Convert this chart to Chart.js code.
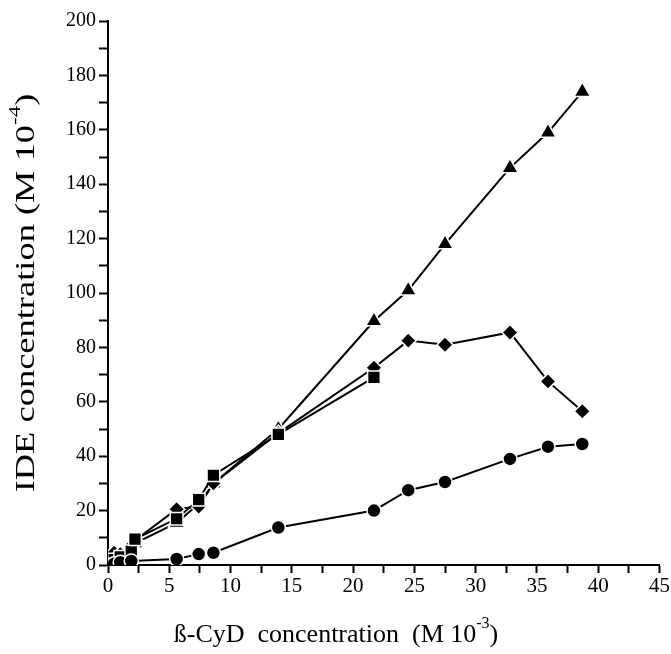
<!DOCTYPE html>
<html>
<head>
    <title>IDE vs beta-CyD concentration</title>
    <script src="https://cdn.jsdelivr.net/npm/chart.js"></script>
    <style>
        body {
            margin: 0;
            background: #fff;
        }
        .chart-container {
            position: relative;
            width: 671px;
            height: 654px;
        }
    </style>
</head>
<body>
    <div class="chart-container">
        <canvas id="ideChart"></canvas>
    </div>

    <script>
        // beta-CyD concentration (M 10^-3) and IDE concentration (M 10^-4)
        const triangleX = [0, 0.5, 1, 1.9, 2.2, 5.6, 7.4, 8.6, 13.9, 21.7, 24.5, 27.5, 32.8, 35.9, 38.7];
        const triangleY = [0, 4, 3.5, 6, 8, 15.5, 22.5, 30, 50, 89.7, 101, 118, 146, 159, 174];

        const diamondX = [0, 0.5, 1, 1.9, 2.2, 5.6, 7.4, 8.6, 13.9, 21.7, 24.5, 27.5, 32.8, 35.9, 38.7];
        const diamondY = [0, 4.5, 4, 7, 9, 20.5, 21.5, 30, 48.5, 72.5, 82.5, 81, 85.5, 67.5, 56.5];

        const squareX = [0, 0.5, 1, 1.9, 2.2, 5.6, 7.4, 8.6, 13.9, 21.7];
        const squareY = [0, 2, 3, 5, 9.5, 17, 24, 33, 48, 69];

        const circleX = [0, 0.5, 1, 1.9, 5.6, 7.4, 8.6, 13.9, 21.7, 24.5, 27.5, 32.8, 35.9, 38.7];
        const circleY = [0, 0.5, 1, 1.5, 2.2, 4, 4.5, 13.8, 20, 27.5, 30.5, 39, 43.5, 44.5];

        const xTicks = [0, 5, 10, 15, 20, 25, 30, 35, 40, 45];
        const yTicks = [0, 20, 40, 60, 80, 100, 120, 140, 160, 180, 200];

        const serif = '"Liberation Serif", "DejaVu Serif", serif';

        function toPoints(xs, ys) {
            return xs.map((x, i) => ({x: x, y: ys[i]}));
        }

        function series(label, xs, ys, style, radius) {
            return {
                label: label,
                data: toPoints(xs, ys),
                showLine: true,
                borderColor: '#000',
                borderWidth: 2,
                pointStyle: style,
                pointRadius: radius,
                pointBackgroundColor: '#000',
                pointBorderColor: '#fff',
                pointBorderWidth: 1.5
            };
        }

        // axis titles with raised exponents
        const axisTitles = {
            id: 'axisTitles',
            afterDraw(chart) {
                const ctx = chart.ctx;
                const area = chart.chartArea;

                function drawParts(parts, x, y, size) {
                    const big = size + 'px ' + serif;
                    const small = Math.round(size * 0.62) + 'px ' + serif;
                    let total = 0;
                    parts.forEach(p => {
                        ctx.font = p.sup ? small : big;
                        total += ctx.measureText(p.t).width;
                    });
                    let cx = x - total / 2;
                    parts.forEach(p => {
                        ctx.font = p.sup ? small : big;
                        ctx.fillText(p.t, cx, p.sup ? y - size * 0.42 : y);
                        cx += ctx.measureText(p.t).width;
                    });
                }

                ctx.save();
                ctx.fillStyle = '#000';
                ctx.textBaseline = 'middle';
                ctx.textAlign = 'left';

                drawParts([
                    {t: 'ß-CyD  concentration  (M 10'},
                    {t: '-3', sup: true},
                    {t: ')'}
                ], 336, 635, 26);

                // the vertical title runs long, so stretch it along its baseline
                ctx.translate(27, (area.top + area.bottom) / 2);
                ctx.rotate(-Math.PI / 2);
                ctx.scale(1.35, 1);
                drawParts([
                    {t: 'IDE concentration (M 10'},
                    {t: '-4', sup: true},
                    {t: ')'}
                ], 0, 0, 27);
                ctx.restore();
            }
        };

        new Chart(document.getElementById('ideChart'), {
            type: 'scatter',
            data: {
                datasets: [
                    series('circle', circleX, circleY, 'circle', 7),
                    series('square', squareX, squareY, 'rect', 9),
                    series('diamond', diamondX, diamondY, 'rectRot', 8),
                    series('triangle', triangleX, triangleY, 'triangle', 9.5)
                ]
            },
            options: {
                responsive: true,
                maintainAspectRatio: false,
                animation: false,
                layout: {
                    padding: {top: 21, right: 10, left: 0, bottom: 0}
                },
                plugins: {
                    legend: {display: false},
                    tooltip: {enabled: false}
                },
                scales: {
                    x: {
                        type: 'linear',
                        min: 0,
                        max: 45,
                        afterFit(scale) { scale.height = 89; },
                        ticks: {
                            stepSize: 2.5,
                            autoSkip: false,
                            maxRotation: 0,
                            padding: 1,
                            color: '#000',
                            font: {family: serif, size: 21},
                            callback: v => xTicks.includes(v) ? String(v) : ''
                        },
                        grid: {
                            drawOnChartArea: false,
                            tickLength: 8,
                            tickColor: '#000',
                            tickWidth: 2
                        },
                        border: {color: '#000', width: 2}
                    },
                    y: {
                        min: 0,
                        max: 200,
                        afterFit(scale) { scale.width = 108; },
                        ticks: {
                            stepSize: 10,
                            autoSkip: false,
                            padding: 3,
                            color: '#000',
                            font: {family: serif, size: 20},
                            callback: v => yTicks.includes(v) ? String(v) : ''
                        },
                        grid: {
                            drawOnChartArea: false,
                            tickLength: 9,
                            tickColor: '#000',
                            tickWidth: 2
                        },
                        border: {color: '#000', width: 2}
                    }
                }
            },
            plugins: [axisTitles]
        });
    </script>
</body>
</html>
